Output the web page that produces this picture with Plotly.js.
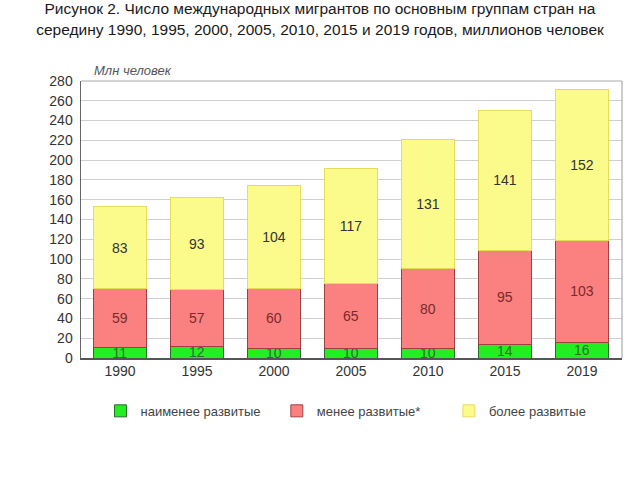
<!DOCTYPE html>
<html>
<head>
<meta charset="utf-8">
<script src="https://cdn.plot.ly/plotly-3.0.1.min.js"></script>
<style>html,body{margin:0;padding:0;background:#fff;}#chart{width:640px;height:480px;}</style>
</head>
<body>
<div id="chart"></div>
<script>
const years = ["1990", "1995", "2000", "2005", "2010", "2015", "2019"];
const leastDeveloped = [11, 12, 10, 10, 10, 14, 16];
const lessDeveloped = [59, 57, 60, 65, 80, 95, 103];
const moreDeveloped = [83, 93, 104, 117, 131, 141, 152];
const seriesNames = ["наименее развитые", "менее развитые*", "более развитые"];
const yTicks = [0, 20, 40, 60, 80, 100, 120, 140, 160, 180, 200, 220, 240, 260, 280];

function barTrace(name, values, fill, edge, txt, legendId) {
  return {
    type: "bar",
    name: name,
    legend: legendId,
    x: years,
    y: values,
    text: values.map(String),
    textposition: "inside",
    insidetextanchor: "middle",
    textangle: 0,
    constraintext: "none",
    textfont: {family: "Liberation Sans, Arial, sans-serif", size: 14, color: txt},
    marker: {color: fill, line: {color: edge, width: 1}},
    width: 0.68,
    hoverinfo: "none"
  };
}

const data = [
  barTrace(seriesNames[0], leastDeveloped, "#22ee22", "#2a6a2a", "#2f6f2f", "legend"),
  barTrace(seriesNames[1], lessDeveloped, "#fb8080", "#a04040", "#7a2a2a", "legend2"),
  barTrace(seriesNames[2], moreDeveloped, "#fbfb8c", "#e6dc5a", "#333333", "legend3")
];

function legendAt(xPos) {
  return {
    orientation: "h",
    xref: "paper", yref: "container",
    x: xPos, xanchor: "left",
    y: 0.144, yanchor: "middle",
    itemwidth: 30,
    font: {family: "Liberation Sans, Arial, sans-serif", size: 13, color: "#444444"},
    bgcolor: "rgba(0,0,0,0)"
  };
}

const layout = {
  width: 640, height: 480,
  margin: {l: 81, r: 18, t: 81, b: 122, autoexpand: false},
  paper_bgcolor: "#ffffff",
  plot_bgcolor: "#ffffff",
  barmode: "stack",
  showlegend: true,
  uniformtext: {mode: "show", minsize: 14},
  title: {
    text: "Рисунок 2. Число международных мигрантов по основным группам стран на<br>середину 1990, 1995, 2000, 2005, 2010, 2015 и 2019 годов, миллионов человек",
    font: {family: "Liberation Sans, Arial, sans-serif", size: 15.5, color: "#1a1a1a"},
    x: 0.5, xanchor: "center", xref: "container",
    y: 0.97, yanchor: "middle", yref: "container"
  },
  xaxis: {
    type: "category",
    range: [-0.506, 6.52],
    showgrid: false,
    showline: true, linecolor: "#555555", linewidth: 1.5,
    ticks: "",
    tickfont: {family: "Liberation Sans, Arial, sans-serif", size: 14, color: "#333333"},
    fixedrange: true
  },
  yaxis: {
    range: [0, 280],
    tickvals: yTicks,
    ticktext: yTicks.map(String),
    showgrid: true, gridcolor: "#cfcfcf", gridwidth: 1,
    showline: true, linecolor: "#666666", linewidth: 1.5,
    zeroline: false,
    ticks: "", ticklabelstandoff: 4,
    tickfont: {family: "Liberation Sans, Arial, sans-serif", size: 14, color: "#333333"},
    fixedrange: true
  },
  shapes: [
    {type: "line", xref: "paper", yref: "paper", x0: 0, x1: 1, y0: 1, y1: 1, line: {color: "#aaaaaa", width: 1.2}},
    {type: "line", xref: "paper", yref: "paper", x0: 1, x1: 1, y0: 0, y1: 1, line: {color: "#aaaaaa", width: 1.2}}
  ],
  annotations: [
    {
      text: "<i>Млн человек</i>",
      xref: "paper", yref: "paper",
      x: 0.02, y: 1.005, xanchor: "left", yanchor: "bottom",
      showarrow: false,
      font: {family: "Liberation Sans, Arial, sans-serif", size: 13, color: "#555555"}
    }
  ],
  legend: legendAt(0.036),
  legend2: legendAt(0.362),
  legend3: legendAt(0.68)
};

Plotly.newPlot("chart", data, layout, {displayModeBar: false, staticPlot: true});
</script>
</body>
</html>
